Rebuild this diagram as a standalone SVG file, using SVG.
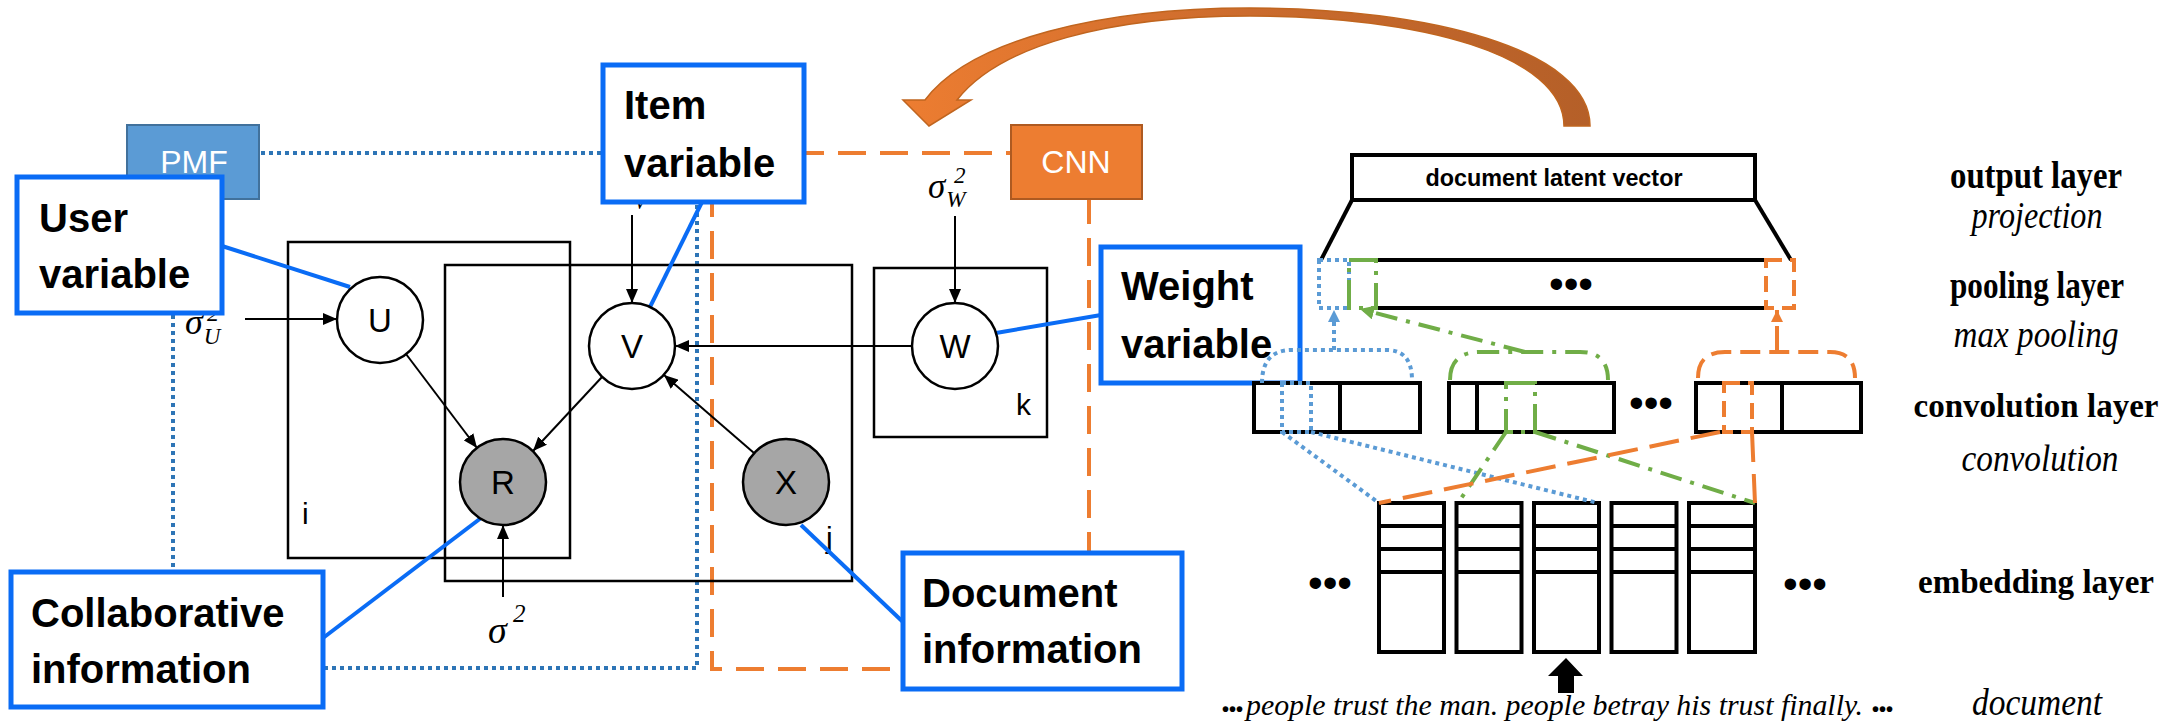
<svg xmlns="http://www.w3.org/2000/svg" width="2174" height="725" viewBox="0 0 2174 725">
<defs>
<style>
.plate{fill:none;stroke:#000;stroke-width:2.5}
.node{fill:#fff;stroke:#000;stroke-width:2.5}
.obs{fill:#A6A6A6;stroke:#000;stroke-width:2.5}
.nl{font-family:"Liberation Sans",Arial,sans-serif;font-size:33px;text-anchor:middle;fill:#000}
.pl{font-family:"Liberation Sans",Arial,sans-serif;font-size:30px;fill:#000}
.edge{stroke:#000;stroke-width:2;fill:none;marker-end:url(#ah)}
.call{fill:#fff;stroke:#0A6CF5;stroke-width:5}
.cline{stroke:#0A6CF5;stroke-width:4;fill:none}
.ct{font-family:"Liberation Sans",Arial,sans-serif;font-size:40px;font-weight:bold;fill:#000}
.math{font-family:"Liberation Serif","Times New Roman",serif;font-style:italic;fill:#000}
.pmfdot{fill:none;stroke:#2E75B6;stroke-width:4;stroke-dasharray:4 4}
.cnndash{fill:none;stroke:#ED7D31;stroke-width:4;stroke-dasharray:28 14}
.blk{fill:#fff;stroke:#000;stroke-width:4}
.bline{stroke:#000;stroke-width:4;fill:none}
.bdot{fill:none;stroke:#5B9BD5;stroke-width:4;stroke-dasharray:4 4}
.gdd{fill:none;stroke:#70AD47;stroke-width:4;stroke-dasharray:22 9 4 9}
.odash{fill:none;stroke:#ED7D31;stroke-width:4;stroke-dasharray:20 9}
.rl{font-family:"Liberation Serif","Times New Roman",serif;font-size:37px;font-weight:bold;text-anchor:middle;fill:#000}
.ri{font-family:"Liberation Serif","Times New Roman",serif;font-size:38px;font-style:italic;text-anchor:middle;fill:#000}
.dots{font-family:"Liberation Sans",Arial,sans-serif;font-size:42px;text-anchor:middle;fill:#000}
.white{font-family:"Liberation Sans",Arial,sans-serif;font-size:32px;fill:#fff;text-anchor:middle}
</style>
<marker id="ah" markerUnits="userSpaceOnUse" markerWidth="14" markerHeight="12" refX="14" refY="6" orient="auto">
<path d="M0,0 L14,6 L0,12 z" fill="#000"/>
</marker>
<marker id="ahb" markerUnits="userSpaceOnUse" markerWidth="12" markerHeight="12" refX="12" refY="6" orient="auto">
<path d="M0,0 L12,6 L0,12 z" fill="#5B9BD5"/>
</marker>
<marker id="ahg" markerUnits="userSpaceOnUse" markerWidth="14" markerHeight="14" refX="14" refY="7" orient="auto">
<path d="M0,0 L14,7 L0,14 z" fill="#70AD47"/>
</marker>
<marker id="aho" markerUnits="userSpaceOnUse" markerWidth="12" markerHeight="12" refX="12" refY="6" orient="auto">
<path d="M0,0 L12,6 L0,12 z" fill="#ED7D31"/>
</marker>
<linearGradient id="og" gradientUnits="userSpaceOnUse" x1="900" y1="0" x2="1600" y2="0">
<stop offset="0" stop-color="#ED7D31"/>
<stop offset="0.5" stop-color="#CB6B2D"/>
<stop offset="1" stop-color="#B45F28"/>
</linearGradient>
</defs>
<rect width="2174" height="725" fill="#fff"/>

<g id="regions">
<rect class="pmfdot" x="173" y="153" width="524" height="515"/>
<rect class="cnndash" x="712" y="153" width="377" height="516"/>
</g>

<g id="plates">
<rect id="plate-i" class="plate" x="288" y="242" width="282" height="316"/>
<rect id="plate-j" class="plate" x="445" y="265" width="407" height="316"/>
<rect id="plate-k" class="plate" x="874" y="268" width="173" height="169"/>
<text class="pl" x="302" y="524">i</text>
<text class="pl" x="826" y="548">j</text>
<text class="pl" x="1016" y="415">k</text>
</g>

<g id="hyper">
<text class="math" x="185" y="334" font-size="36">σ<tspan font-size="23" dx="1" dy="10">U</tspan></text>
<text class="math" x="207" y="321" font-size="24">2</text>
<text class="math" x="634" y="209" font-size="20">V</text>
<text class="math" x="928" y="198" font-size="35">σ<tspan font-size="23" dx="1" dy="9">W</tspan></text>
<text class="math" x="954" y="183" font-size="23">2</text>
<text class="math" x="488" y="643" font-size="38">σ</text>
<text class="math" x="513" y="622" font-size="25">2</text>
</g>

<g id="connectors">
<line class="edge" x1="245" y1="319" x2="337" y2="319"/>
<line class="edge" x1="632" y1="215" x2="632" y2="303"/>
<line class="edge" x1="955" y1="216" x2="955" y2="303"/>
<line class="edge" x1="912" y1="346" x2="675" y2="346"/>
<line class="edge" x1="754" y1="453" x2="664" y2="375"/>
<line class="edge" x1="406" y1="354" x2="477" y2="448"/>
<line class="edge" x1="602" y1="377" x2="533" y2="451"/>
<line class="edge" x1="503" y1="597" x2="503" y2="525"/>
<line class="cline" x1="222" y1="246" x2="350" y2="287"/>
<line class="cline" x1="702" y1="202" x2="650" y2="307"/>
<line class="cline" x1="996" y1="333" x2="1101" y2="315"/>
<line class="cline" x1="323" y1="638" x2="481" y2="518"/>
<line class="cline" x1="801" y1="525" x2="903" y2="622"/>
</g>

<g id="node-U"><circle class="node" cx="380" cy="320" r="43"/><text class="nl" x="380" y="332">U</text></g>
<g id="node-V"><circle class="node" cx="632" cy="346" r="43"/><text class="nl" x="632" y="358">V</text></g>
<g id="node-W"><circle class="node" cx="955" cy="346" r="43"/><text class="nl" x="955" y="358">W</text></g>
<g id="node-R"><circle class="obs" cx="503" cy="482" r="43"/><text class="nl" x="503" y="494">R</text></g>
<g id="node-X"><circle class="obs" cx="786" cy="482" r="43"/><text class="nl" x="786" y="494">X</text></g>

<g id="node-PMF"><rect x="127" y="125" width="132" height="74" fill="#5B9BD5" stroke="#41719C" stroke-width="2"/><text class="white" x="194" y="173">PMF</text></g>
<g id="node-CNN"><rect x="1011" y="125" width="131" height="74" fill="#ED7D31" stroke="#AE5A21" stroke-width="2"/><text class="white" x="1076" y="173">CNN</text></g>

<g id="callout-user"><rect class="call" x="17" y="177" width="205" height="136"/><text class="ct" x="39" y="232">User</text><text class="ct" x="39" y="288">variable</text></g>
<g id="callout-item"><rect class="call" x="603" y="65" width="201" height="137"/><text class="ct" x="624" y="119">Item</text><text class="ct" x="624" y="177">variable</text></g>
<g id="callout-weight"><rect class="call" x="1101" y="247" width="199" height="136"/><text class="ct" x="1121" y="300">Weight</text><text class="ct" x="1121" y="358">variable</text></g>
<g id="callout-collab"><rect class="call" x="11" y="572" width="312" height="135"/><text class="ct" x="31" y="627">Collaborative</text><text class="ct" x="31" y="683">information</text></g>
<g id="callout-doc"><rect class="call" x="903" y="553" width="279" height="136"/><text class="ct" x="922" y="607">Document</text><text class="ct" x="922" y="663">information</text></g>

<g id="feedback-arrow">
<path d="M1590,126 C1590,50 1430,8 1250,8 C1100,8 970,40 925,100 L903,100 L929,126 L971,100 L957,100 C1000,45 1110,16 1250,16 C1420,16 1564,55 1564,126 Z" fill="url(#og)" stroke="#C0651F" stroke-width="1.5"/>
</g>

<g id="output-layer">
<rect class="blk" x="1352" y="155" width="403" height="45"/>
<text font-family="Liberation Sans,Arial,sans-serif" font-size="24" font-weight="bold" text-anchor="middle" x="1554" y="186" textLength="257" lengthAdjust="spacingAndGlyphs">document latent vector</text>
<line class="bline" x1="1352" y1="200" x2="1321" y2="260"/>
<line class="bline" x1="1755" y1="200" x2="1791" y2="260"/>
</g>

<g id="pooling-layer">
<line class="bline" x1="1376" y1="260" x2="1766" y2="260"/>
<line class="bline" x1="1376" y1="308" x2="1766" y2="308"/>
<rect class="bdot" x="1319" y="260" width="30" height="48"/>
<rect class="gdd" x="1349" y="260" width="27" height="48" style="stroke-dasharray:30 8 4 8"/>
<rect class="odash" x="1766" y="260" width="28" height="48" style="stroke-dasharray:16 8"/>
<text class="dots" x="1571" y="298">•••</text>
</g>

<g id="convolution-layer">
<rect class="blk" x="1254" y="383" width="166" height="49"/><line class="bline" x1="1340" y1="383" x2="1340" y2="432"/>
<rect class="blk" x="1449" y="383" width="165" height="49"/><line class="bline" x1="1477" y1="383" x2="1477" y2="432"/>
<rect class="blk" x="1696" y="383" width="165" height="49"/><line class="bline" x1="1782" y1="383" x2="1782" y2="432"/>
<rect class="bdot" x="1282" y="383" width="29" height="49"/>
<rect class="gdd" x="1506" y="383" width="29" height="49" style="stroke-dasharray:30 8 4 8"/>
<rect class="odash" x="1724" y="383" width="28" height="49" style="stroke-dasharray:16 8"/>
<text class="dots" x="1651" y="417">•••</text>
</g>

<g id="embedding-layer">
<rect class="blk" x="1379" y="503" width="65" height="149"/>
<rect class="blk" x="1456.5" y="503" width="65" height="149"/>
<rect class="blk" x="1534" y="503" width="65" height="149"/>
<rect class="blk" x="1611.5" y="503" width="65" height="149"/>
<rect class="blk" x="1689" y="503" width="66" height="149"/>
<path class="bline" d="M1379,526 H1444 M1379,549 H1444 M1379,572 H1444 M1456.5,526 H1521.5 M1456.5,549 H1521.5 M1456.5,572 H1521.5 M1534,526 H1599 M1534,549 H1599 M1534,572 H1599 M1611.5,526 H1676.5 M1611.5,549 H1676.5 M1611.5,572 H1676.5 M1689,526 H1755 M1689,549 H1755 M1689,572 H1755"/>
<text class="dots" x="1330" y="597">•••</text>
<text class="dots" x="1805" y="598">•••</text>
<polygon points="1566,658 1583,676 1574,676 1574,693 1558,693 1558,676 1548,676" fill="#000"/>
</g>

<g id="cnn-connectors">
<path class="bdot" d="M1262,383 Q1262,350 1292,350 L1388,350 Q1412,351 1412,380"/>
<line class="bdot" x1="1334" y1="350" x2="1334" y2="310" marker-end="url(#ahb)"/>
<path class="gdd" d="M1450,380 Q1450,352 1480,352 L1580,352 Q1608,352 1608,380"/>
<line class="gdd" x1="1525" y1="352" x2="1360" y2="309" marker-end="url(#ahg)"/>
<path class="odash" d="M1698,378 Q1698,352 1725,352 L1830,352 Q1855,352 1855,378"/>
<line class="odash" x1="1777" y1="352" x2="1777" y2="310" marker-end="url(#aho)" style="stroke-dasharray:26 8"/>
<line class="bdot" x1="1282" y1="432" x2="1379" y2="503"/>
<line class="bdot" x1="1311" y1="432" x2="1598" y2="503"/>
<line class="gdd" x1="1506" y1="432" x2="1458" y2="503"/>
<line class="gdd" x1="1535" y1="432" x2="1755" y2="503"/>
<line class="odash" x1="1720" y1="432" x2="1379" y2="503" style="stroke-dasharray:30 12"/>
<line class="odash" x1="1752" y1="432" x2="1755" y2="503" style="stroke-dasharray:30 12"/>
</g>

<g id="sentence">
<text font-family="Liberation Sans,Arial,sans-serif" font-size="20" font-weight="bold" x="1222" y="716">•••</text>
<text font-family="Liberation Serif,Times New Roman,serif" font-size="30" font-style="italic" x="1246" y="715" textLength="617" lengthAdjust="spacingAndGlyphs">people trust the man. people betray his trust finally.</text>
<text font-family="Liberation Sans,Arial,sans-serif" font-size="20" font-weight="bold" x="1872" y="716">•••</text>
</g>

<g id="layer-labels">
<text class="rl" x="2036" y="188" textLength="172" lengthAdjust="spacingAndGlyphs">output layer</text>
<text class="ri" x="2037" y="228" textLength="131" lengthAdjust="spacingAndGlyphs">projection</text>
<text class="rl" x="2037" y="298" textLength="174" lengthAdjust="spacingAndGlyphs">pooling layer</text>
<text class="ri" x="2036" y="347" textLength="165" lengthAdjust="spacingAndGlyphs">max pooling</text>
<text class="rl" x="2036" y="417" style="font-size:33px" textLength="245" lengthAdjust="spacingAndGlyphs">convolution layer</text>
<text class="ri" x="2040" y="471" textLength="157" lengthAdjust="spacingAndGlyphs">convolution</text>
<text class="rl" x="2036" y="593" style="font-size:33px" textLength="236" lengthAdjust="spacingAndGlyphs">embedding layer</text>
<text class="ri" x="2037" y="715" textLength="130" lengthAdjust="spacingAndGlyphs">document</text>
</g>
</svg>
